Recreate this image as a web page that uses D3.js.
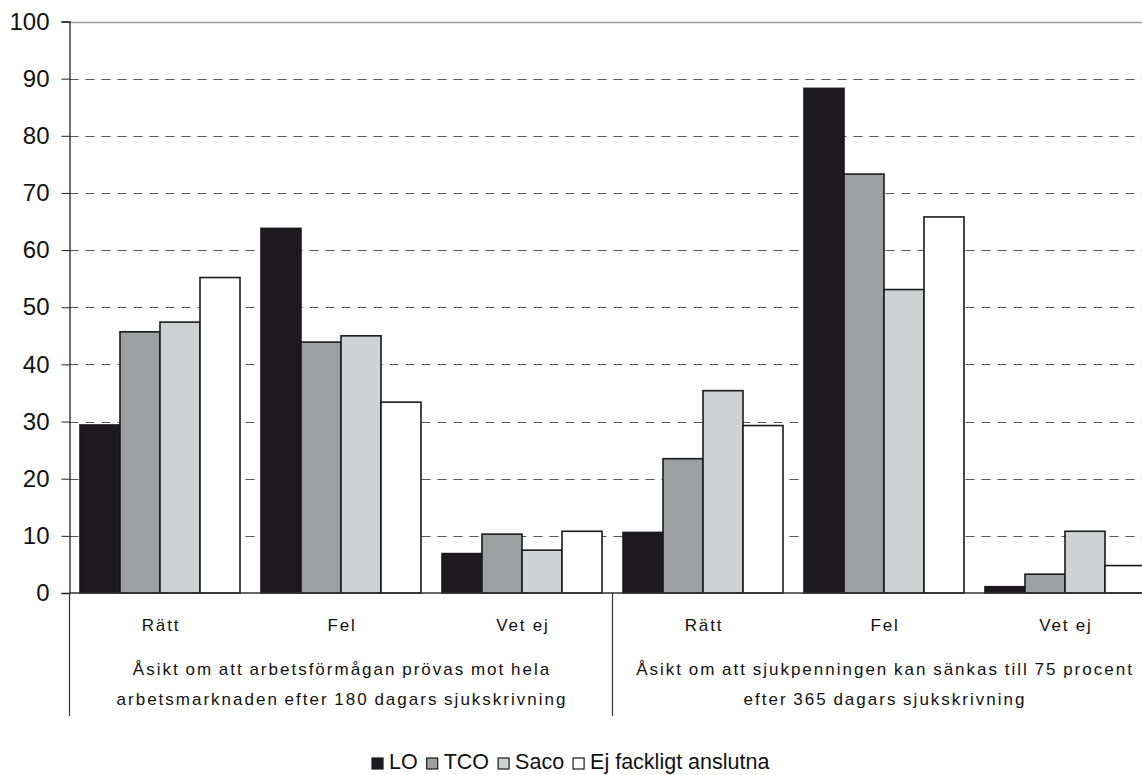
<!DOCTYPE html>
<html>
<head>
<meta charset="utf-8">
<script src="https://cdn.jsdelivr.net/npm/d3@7"></script>
<style>
  html, body { margin: 0; padding: 0; background: #fff; }
  svg { display: block; font-family: "Liberation Sans", Arial, sans-serif; }
</style>
</head>
<body>
<svg id="chart" width="1142" height="775"></svg>
<script>
// Answer categories (two questions, three answers each)
const categories = ["Rätt|1", "Fel|1", "Vet ej|1", "Rätt|2", "Fel|2", "Vet ej|2"];
const categoryLabels = ["Rätt", "Fel", "Vet ej", "Rätt", "Fel", "Vet ej"];
const groupLabels = [
  ["Åsikt om att arbetsförmågan prövas mot hela", "arbetsmarknaden efter 180 dagars sjukskrivning"],
  ["Åsikt om att sjukpenningen kan sänkas till 75 procent", "efter 365 dagars sjukskrivning"]
];
const series = ["LO", "TCO", "Saco", "Ej fackligt anslutna"];
const colors = ["#1c1a1f", "#9e9fa1", "#d0d1d3", "#ffffff"];

// Percent per category, one array per series
const valuesLO   = [29.4, 63.8,  6.9, 10.6, 88.3,  1.1];
const valuesTCO  = [45.7, 43.9, 10.3, 23.5, 73.3,  3.3];
const valuesSaco = [47.4, 45.0,  7.5, 35.4, 53.1, 10.8];
const valuesEj   = [55.2, 33.4, 10.8, 29.3, 65.8,  4.8];
const seriesValues = [valuesLO, valuesTCO, valuesSaco, valuesEj];

const yTicks = [0, 10, 20, 30, 40, 50, 60, 70, 80, 90, 100];

const svg = d3.select("#chart");
const plotLeft = 69.5, plotTop = 21.5, plotBottom = 593;
const step = 181;

const x0 = d3.scaleBand().domain(categories).range([plotLeft, plotLeft + step * categories.length]);
const x1 = d3.scaleBand().domain(series).range([0, x0.bandwidth()]).paddingOuter(0.2625);
const y = d3.scaleLinear().domain([0, 100]).range([plotBottom, plotTop]);

// Horizontal grid: dashed lines, solid line at 100
svg.append("g").selectAll("line")
  .data(yTicks.filter(d => d > 0))
  .join("line")
  .attr("x1", plotLeft).attr("x2", 1142)
  .attr("y1", d => Math.round(y(d)) + 0.5).attr("y2", d => Math.round(y(d)) + 0.5)
  .attr("stroke", d => d === 100 ? "#9a9a9a" : "#555")
  .attr("stroke-width", d => d === 100 ? 1.5 : 1)
  .attr("stroke-dasharray", d => d === 100 ? null : "9,7");

// Bars
const barG = svg.append("g");
series.forEach((s, si) => {
  barG.append("g").selectAll("rect")
    .data(seriesValues[si].map((v, i) => ({ cat: categories[i], v })))
    .join("rect")
    .attr("x", d => x0(d.cat) + x1(s))
    .attr("y", d => y(d.v))
    .attr("width", x1.bandwidth())
    .attr("height", d => y(0) - y(d.v))
    .attr("fill", colors[si])
    .attr("stroke", "#1a1a1a")
    .attr("stroke-width", 1.6);
});

// Y axis
const yAxis = d3.axisLeft(y).tickValues(yTicks).tickSize(8).tickPadding(12);
const yg = svg.append("g").attr("transform", `translate(${plotLeft},0)`).call(yAxis);
yg.select(".domain").attr("stroke", "#222").attr("stroke-width", 1.3);
yg.selectAll(".tick line").attr("stroke", "#222");
yg.selectAll(".tick text")
  .attr("font-size", 24).attr("fill", "#111")
  .attr("font-family", "Liberation Sans, Arial, sans-serif");

// X baseline
svg.append("line")
  .attr("x1", plotLeft).attr("x2", 1142)
  .attr("y1", y(0)).attr("y2", y(0))
  .attr("stroke", "#333").attr("stroke-width", 1.3);

// Group separators below the axis
const separators = [x0.range()[0], x0(categories[3])];
svg.append("g").selectAll("line")
  .data(separators)
  .join("line")
  .attr("x1", d => d).attr("x2", d => d)
  .attr("y1", y(0)).attr("y2", 716)
  .attr("stroke", "#333").attr("stroke-width", 1.2);

// Category labels
svg.append("g").selectAll("text")
  .data(categories)
  .join("text")
  .attr("x", d => x0(d) + x0.bandwidth() / 2 + 1)
  .attr("y", 631)
  .attr("text-anchor", "middle")
  .attr("font-size", 17)
  .attr("letter-spacing", 1.8)
  .attr("fill", "#111")
  .text((d, i) => categoryLabels[i]);

// Question labels, two lines each
groupLabels.forEach((lines, gi) => {
  const cx = (x0(categories[gi * 3]) + x0(categories[gi * 3 + 2]) + x0.bandwidth()) / 2;
  lines.forEach((t, li) => {
    svg.append("text")
      .attr("x", cx + 1)
      .attr("y", 675 + li * 30)
      .attr("text-anchor", "middle")
      .attr("font-size", 17)
      .attr("letter-spacing", 2.0)
      .attr("word-spacing", -1)
      .attr("fill", "#111")
      .text(t);
  });
});

// Legend
const legend = svg.append("g");
let lx = 372;
series.forEach((s, si) => {
  legend.append("rect")
    .attr("x", lx).attr("y", 758)
    .attr("width", 11).attr("height", 11)
    .attr("fill", colors[si])
    .attr("stroke", "#1a1a1a").attr("stroke-width", 1.2);
  const t = legend.append("text")
    .attr("x", lx + 17).attr("y", 769)
    .attr("font-size", 21.5).attr("fill", "#111")
    .text(s);
  lx += 17 + t.node().getComputedTextLength() + 9;
});
</script>
</body>
</html>
